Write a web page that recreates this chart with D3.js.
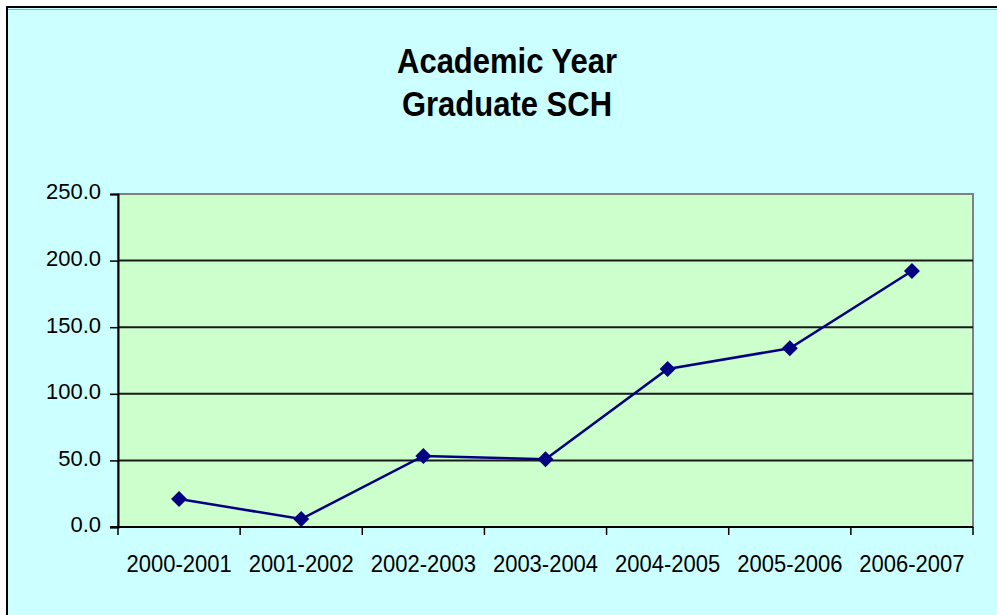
<!DOCTYPE html>
<html>
<head>
<meta charset="utf-8">
<script src="https://cdn.jsdelivr.net/npm/d3@7"></script>
<style>
  body { margin: 0; background: #fff; }
  text { font-family: "Liberation Sans", Arial, sans-serif; fill: #000; }
</style>
</head>
<body>
<div id="chart"></div>
<script>
var years = ["2000-2001", "2001-2002", "2002-2003", "2003-2004", "2004-2005", "2005-2006", "2006-2007"];
var schValues = [21.0, 6.0, 53.3, 50.8, 118.6, 134.2, 192.2];
var yTicks = [0, 50, 100, 150, 200, 250];
var titleLines = ["Academic Year", "Graduate SCH"];

var conf = {
	width: 997, height: 615,
	plot: { left: 118, top: 194, right: 973, bottom: 527 }
};

var $svg = d3.select("#chart").append("svg")
	.attr("width", conf.width)
	.attr("height", conf.height);

// chart area box (runs past the right and bottom edges of the picture)
$svg.append("rect")
	.attr("x", 7).attr("y", 7)
	.attr("width", 1100).attr("height", 700)
	.attr("fill", "#ccffff")
	.attr("stroke", "#000")
	.attr("stroke-width", 2);
$svg.append("line")
	.attr("x1", 8).attr("x2", conf.width)
	.attr("y1", 9.5).attr("y2", 9.5)
	.attr("stroke", "#9ab").attr("stroke-width", 1);

// title
$svg.append("g").selectAll("text").data(titleLines).enter()
	.append("text")
	.attr("transform", function(d, i) { return "translate(507," + (73 + i * 43) + ") scale(1,1.12)"; })
	.attr("text-anchor", "middle")
	.style("font-size", "31px")
	.style("font-weight", "bold")
	.text(function(d) { return d; });

var x = d3.scaleBand()
	.domain(years)
	.range([conf.plot.left, conf.plot.right]);

var y = d3.scaleLinear()
	.domain([0, 250])
	.range([conf.plot.bottom, conf.plot.top]);

// plot area
$svg.append("rect")
	.attr("x", conf.plot.left).attr("y", conf.plot.top)
	.attr("width", conf.plot.right - conf.plot.left)
	.attr("height", conf.plot.bottom - conf.plot.top)
	.attr("fill", "#ccffcc")
	.attr("stroke", "#808080")
	.attr("stroke-width", 2);

// gridlines
$svg.append("g").selectAll("line").data(yTicks.filter(function(t) { return t > 0 && t < 250; })).enter()
	.append("line")
	.attr("x1", conf.plot.left).attr("x2", conf.plot.right)
	.attr("y1", function(d) { return y(d); })
	.attr("y2", function(d) { return y(d); })
	.attr("stroke", "#1a1a1a")
	.attr("stroke-width", 2);

// y axis
var yAxis = $svg.append("g")
	.attr("transform", "translate(" + conf.plot.left + ",0)")
	.call(d3.axisLeft(y).tickValues(yTicks).tickSize(8).tickPadding(9).tickFormat(d3.format(".1f")));
yAxis.select(".domain").attr("stroke", "#000").attr("stroke-width", 2);
yAxis.selectAll(".tick line").attr("stroke", "#000").attr("stroke-width", 1.5);
yAxis.selectAll(".tick text")
	.style("font-size", "22px")
	.style("font-family", "'Liberation Sans', Arial, sans-serif")
	.attr("dy", "0.22em")
	.attr("fill", "#111");

// x axis, ticks between categories
var xAxis = $svg.append("g")
	.attr("transform", "translate(0," + conf.plot.bottom + ")");
xAxis.append("line")
	.attr("x1", conf.plot.left - 8).attr("x2", conf.plot.right)
	.attr("y1", 0).attr("y2", 0)
	.attr("stroke", "#000").attr("stroke-width", 2);
xAxis.selectAll("line.tick").data(d3.range(years.length + 1)).enter()
	.append("line")
	.attr("class", "tick")
	.attr("x1", function(i) { return conf.plot.left + i * x.bandwidth(); })
	.attr("x2", function(i) { return conf.plot.left + i * x.bandwidth(); })
	.attr("y1", 0).attr("y2", 8)
	.attr("stroke", "#000").attr("stroke-width", 1.5);
xAxis.selectAll("text").data(years).enter()
	.append("text")
	.attr("transform", function(d) { return "translate(" + (x(d) + x.bandwidth() / 2) + ",45) scale(1,1.1)"; })
	.attr("text-anchor", "middle")
	.style("font-size", "22px")
	.attr("fill", "#111")
	.text(function(d) { return d; });

// series
var pts = years.map(function(d, i) { return { year: d, value: schValues[i] }; });

var line = d3.line()
	.x(function(d) { return x(d.year) + x.bandwidth() / 2; })
	.y(function(d) { return y(d.value); });

$svg.append("path")
	.datum(pts)
	.attr("d", line)
	.attr("fill", "none")
	.attr("stroke", "#000080")
	.attr("stroke-width", 2.5);

$svg.append("g").selectAll("path").data(pts).enter()
	.append("path")
	.attr("d", d3.symbol(d3.symbolSquare, 128))
	.attr("transform", function(d) {
		return "translate(" + (x(d.year) + x.bandwidth() / 2) + "," + y(d.value) + ") rotate(45)";
	})
	.attr("fill", "#000080");
</script>
</body>
</html>
